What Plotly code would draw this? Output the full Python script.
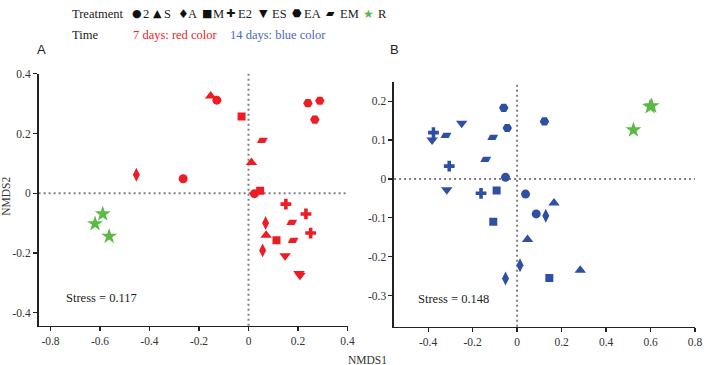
import plotly.graph_objects as go

W, H = 708, 365

# ---------------- data ----------------
treatments = ["2", "S", "A", "M", "E2", "ES", "EA", "EM", "R"]
legend_glyphs = ["●", "▲", "♦", "■", "✚", "▼", "⬣", "▰", "★"]

# Panel A: 7 days (red)
d7_x = {
    "2": [-0.128, -0.264, 0.024],
    "S": [-0.153, 0.012, 0.071],
    "A": [-0.453, 0.069, 0.057],
    "M": [-0.028, 0.047, 0.113],
    "E2": [0.151, 0.232, 0.251],
    "ES": [0.148, 0.208, 0.204],
    "EA": [0.240, 0.288, 0.268],
    "EM": [0.056, 0.175, 0.180],
    "R": [-0.589, -0.620, -0.563],
}
d7_y = {
    "2": [0.312, 0.049, -0.001],
    "S": [0.326, 0.103, -0.140],
    "A": [0.062, -0.099, -0.191],
    "M": [0.257, 0.009, -0.157],
    "E2": [-0.036, -0.069, -0.133],
    "ES": [-0.209, -0.274, -0.268],
    "EA": [0.302, 0.310, 0.247],
    "EM": [0.178, -0.097, -0.157],
    "R": [-0.069, -0.102, -0.144],
}
# Panel B: 14 days (blue)
d14_x = {
    "2": [-0.052, 0.038, 0.086],
    "S": [0.166, 0.047, 0.284],
    "A": [0.129, 0.013, -0.052],
    "M": [-0.092, -0.107, 0.145],
    "E2": [-0.376, -0.305, -0.162],
    "ES": [-0.382, -0.249, -0.316],
    "EA": [-0.060, -0.044, 0.123],
    "EM": [-0.320, -0.110, -0.141],
    "R": [0.598, 0.605, 0.523],
}
d14_y = {
    "2": [0.004, -0.039, -0.090],
    "S": [-0.062, -0.156, -0.235],
    "A": [-0.095, -0.222, -0.256],
    "M": [-0.030, -0.110, -0.255],
    "E2": [0.119, 0.033, -0.037],
    "ES": [0.100, 0.143, -0.028],
    "EA": [0.183, 0.131, 0.148],
    "EM": [0.111, 0.107, 0.050],
    "R": [0.186, 0.188, 0.126],
}

a_xticks = [-0.8, -0.6, -0.4, -0.2, 0, 0.2, 0.4]
a_xlabels = ["-0.8", "-0.6", "-0.4", "-0.2", "0", "0.2", "0.4"]
a_yticks = [-0.4, -0.2, 0, 0.2, 0.4]
a_ylabels = ["-0.4", "-0.2", "0", "0.2", "0.4"]
b_xticks = [-0.4, -0.2, 0, 0.2, 0.4, 0.6, 0.8]
b_xlabels = ["-0.4", "-0.2", "0", "0.2", "0.4", "0.6", "0.8"]
b_yticks = [-0.3, -0.2, -0.1, 0, 0.1, 0.2]
b_ylabels = ["-0.3", "-0.2", "-0.1", "0", "0.1", "0.2"]

stress_a = "Stress = 0.117"
stress_b = "Stress = 0.148"

# ---------------- style ----------------
RED = "#ee1c25"
BLUE = "#2f4fa2"
GREEN = "#5cb946"
LBLUE = "#4a68c2"
SERIF = "Liberation Serif, Times New Roman, serif"
SANS = "Liberation Sans, Arial, sans-serif"
SYM = "DejaVu Sans"

symbols = {"2": "circle", "S": "triangle-up", "A": "diamond-tall", "M": "square",
           "E2": "cross", "ES": "triangle-down", "EA": "hexagon2", "R": "star"}
sizes = {"2": 9, "S": 10, "A": 10, "M": 8, "E2": 9, "ES": 10, "EA": 9.5, "R": 12}

fig = go.Figure()


def add_panel(xd, yd, color, xa, ya):
    for t in treatments:
        c = GREEN if t == "R" else color
        if t == "EM":
            fig.add_trace(go.Scatter(
                x=xd[t], y=yd[t], mode="text", text=["▰"] * len(xd[t]),
                textfont=dict(family=SYM, size=14, color=c),
                textposition="middle center",
                xaxis=xa, yaxis=ya, showlegend=False, hoverinfo="skip"))
        else:
            fig.add_trace(go.Scatter(
                x=xd[t], y=yd[t], mode="markers",
                marker=dict(symbol=symbols[t], size=sizes[t], color=c,
                            line=dict(width=0)),
                xaxis=xa, yaxis=ya, showlegend=False, name=t))


add_panel(d7_x, d7_y, RED, "x", "y")
add_panel(d14_x, d14_y, BLUE, "x2", "y2")

ax_common = dict(showgrid=False, zeroline=False, showline=True, linecolor="#222",
                 linewidth=1.6, ticks="outside", ticklen=4, tickcolor="#222",
                 tickwidth=1.2, tickfont=dict(family=SERIF, size=11.5, color="#333"),
                 mirror=False, fixedrange=True)

fig.update_layout(
    width=W, height=H, margin=dict(l=0, r=0, t=0, b=0),
    paper_bgcolor="white", plot_bgcolor="white", showlegend=False,
    xaxis=dict(domain=[39 / W, 351 / W], range=[-0.848, 0.4], tickvals=a_xticks,
               ticktext=a_xlabels, anchor="y", **ax_common),
    yaxis=dict(domain=[1 - 325 / H, 1 - 69 / H], range=[-0.443, 0.4], tickvals=a_yticks,
               ticktext=a_ylabels, anchor="x", **ax_common),
    xaxis2=dict(domain=[398 / W, 702 / W], range=[-0.553, 0.8], tickvals=b_xticks,
                ticktext=b_xlabels, anchor="y2", **ax_common),
    yaxis2=dict(domain=[1 - 326 / H, 1 - 77 / H], range=[-0.38, 0.25], tickvals=b_yticks,
                ticktext=b_ylabels, anchor="x2", **ax_common),
)

# dotted reference lines
for xr, yr in (("x", "y"), ("x2", "y2")):
    fig.add_shape(type="line", xref=xr, yref=yr + " domain", x0=0, x1=0, y0=0, y1=1,
                  line=dict(color="#808080", width=2, dash="2px,3px"), layer="below")
    fig.add_shape(type="line", xref=xr + " domain", yref=yr, x0=0, x1=1, y0=0, y1=0,
                  line=dict(color="#808080", width=2, dash="2px,3px"), layer="below")

ann = []


def note(text, x, y, size=12.5, color="#222", family=SERIF, xanchor="left", **kw):
    ann.append(dict(text=text, x=x / W, y=1 - y / H, xref="paper", yref="paper",
                    xanchor=xanchor, yanchor="middle", showarrow=False, borderpad=0,
                    font=dict(family=family, size=size, color=color), **kw))


ann.append(dict(text=stress_a, x=-0.744, y=-0.35, xref="x", yref="y", xanchor="left",
                yanchor="middle", showarrow=False, font=dict(family=SERIF, size=12.5, color="#222")))
ann.append(dict(text=stress_b, x=-0.453, y=-0.31, xref="x2", yref="y2", xanchor="left",
                yanchor="middle", showarrow=False, font=dict(family=SERIF, size=12.5, color="#222")))

note("A", 36, 44, size=13, family=SANS)
note("B", 393, 44, size=13, family=SANS)
note("NMDS1", 371, 360, size=11.5, color="#333", xanchor="center")
note("NMDS2", 6, 193, size=11.5, color="#333", xanchor="center", textangle=-90)

note("Treatment", 72, 8)
note("Time", 72, 29)
note("7 days: red color", 133, 29, color=RED)
note("14 days: blue color", 231, 29, color=LBLUE)

glyph_x = [132, 154, 179, 203, 227, 261, 294, 328, 366]
label_x = [143, 165, 189, 214, 239, 274, 306, 342, 381]
glyph_size = {"A": 12, "R": 12}
for t, g, gx, lx in zip(treatments, legend_glyphs, glyph_x, label_x):
    gc = GREEN if t == "R" else "#111"
    note(g, gx, 8, size=glyph_size.get(t, 11), color=gc, family=SYM)
    note(t, lx, 8)

fig.update_layout(annotations=ann)
fig.write_html("out.html", config={"displayModeBar": False, "staticPlot": True},
               post_script="document.body.style.margin='0';document.body.style.overflow='hidden';")
